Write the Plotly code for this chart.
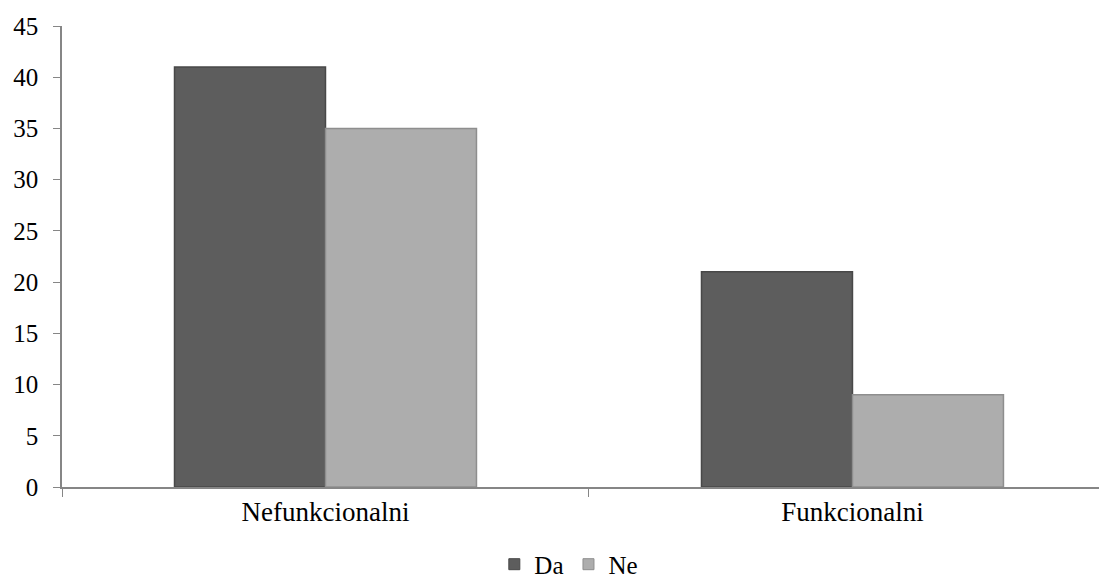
import plotly.graph_objects as go

categories = ["Nefunkcionalni", "Funkcionalni"]
series_names = ["Da", "Ne"]
da_values = [41, 21]
ne_values = [35, 9]

bar_colors = ["#5d5d5d", "#adadad"]
edge_colors = ["#484848", "#8e8e8e"]

fig = go.Figure()
for name, vals, col, edge in zip(series_names, [da_values, ne_values], bar_colors, edge_colors):
    fig.add_trace(go.Bar(
        x=categories, y=vals, name=name, showlegend=False,
        marker=dict(color=col, line=dict(color=edge, width=1.5)),
    ))
# small square legend keys, like the original
for name, col, edge in zip(series_names, bar_colors, edge_colors):
    fig.add_trace(go.Scatter(
        x=[None], y=[None], name=name, mode="markers",
        marker=dict(symbol="square", size=11, color=col, line=dict(color=edge, width=1)),
    ))

# page body adds an 8px margin, so the figure is shifted by that amount
fig.update_layout(
    width=1099, height=585,
    margin=dict(l=54, r=0, t=18, b=106),
    barmode="group",
    bargap=0.427,
    bargroupgap=0,
    plot_bgcolor="white",
    paper_bgcolor="white",
    font=dict(family="Liberation Serif", size=25, color="#000000"),
    legend=dict(orientation="h", x=0.485, xanchor="center", y=-0.168, yanchor="middle",
                font=dict(size=25), itemwidth=30, tracegroupgap=0),
    showlegend=True,
)

# the original axis runs slightly past the right edge of the picture
fig.update_xaxes(
    range=[-0.5, 1.483],
    showline=True, linecolor="#868686", linewidth=1.5,
    ticks="outside", tickson="boundaries", ticklen=8, tickcolor="#868686",
    tickfont=dict(size=27),
    showgrid=False, zeroline=False,
)
fig.update_yaxes(
    range=[0, 45], dtick=5,
    showline=True, linecolor="#868686", linewidth=1.5,
    ticks="outside", ticklen=7, tickcolor="#868686",
    ticklabelstandoff=10,
    showgrid=False, zeroline=False,
)

fig.write_html("out.html")
